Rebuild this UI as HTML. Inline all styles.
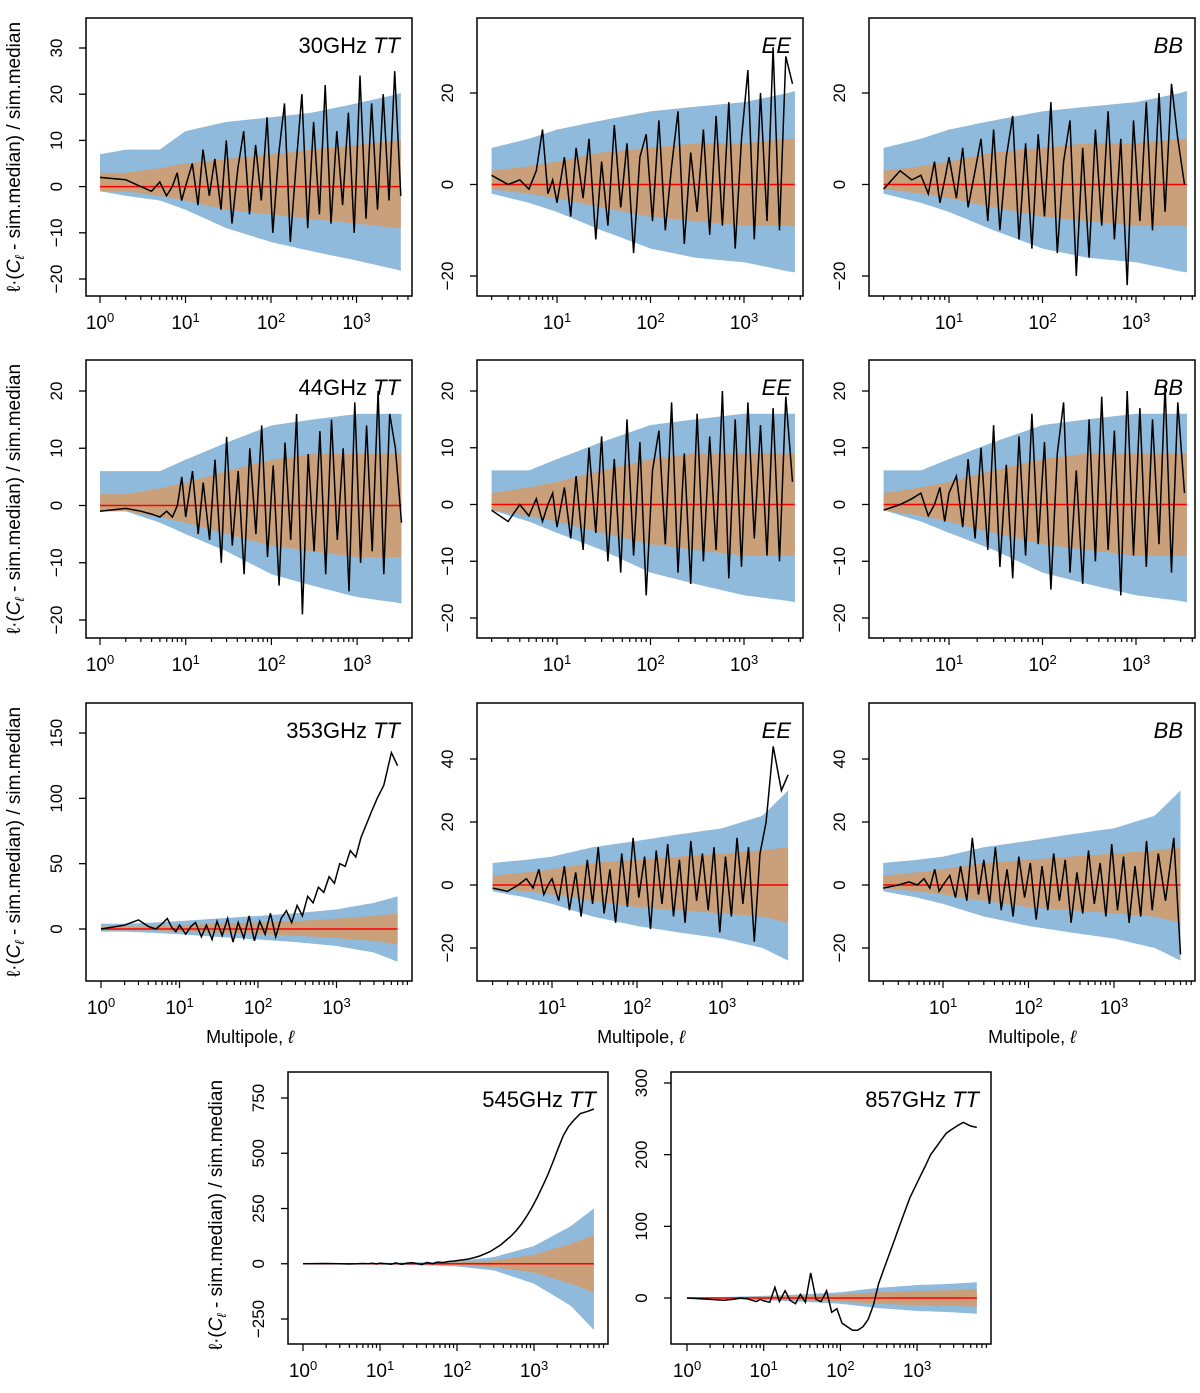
<!DOCTYPE html>
<html><head><meta charset="utf-8"><style>
body{margin:0;background:#fff;}
svg text{font-family:"Liberation Sans","DejaVu Sans",sans-serif;fill:#000;}
</style></head><body>
<svg id="fig" width="1200" height="1388" viewBox="0 0 1200 1388" xmlns="http://www.w3.org/2000/svg"></svg>
<script>
const ellA=[1,2,3,4,5,6,7,8,9,10,12,14,16,19,22,26,30,35,41,48,56,66,77,90,105,123,144,168,197,230,269,315,368,430,503,588,688,805,941,1100,1290,1500,1760,2050,2400,2800,3300];
const ellB=ellA.concat([4000,5000,6000]);
const bandKnots=[1,2,5,10,30,100,300,1000,3000,6000];
const v30TT=[2,1.5,0,-1,1,-2,0,3,-3,0,5,-4,8,-2,6,-5,10,-8,4,12,-6,9,-3,15,-10,7,18,-12,5,20,-9,14,-6,22,-8,12,-4,16,-10,24,-7,18,-5,20,-3,25,-2];
const v30EE=[null,2,0,1,-1,3,12,-2,1,-4,6,-7,8,-3,10,-12,5,-9,13,-5,9,-15,6,11,-8,14,-10,4,16,-13,7,-6,12,-11,15,-9,18,-14,10,25,-12,20,-8,30,-10,28,22];
const v30BB=[null,-1,3,1,2,-2,5,-4,1,6,-3,8,-5,3,10,-8,12,-10,6,15,-12,9,-14,11,-7,18,-15,5,14,-20,8,-16,12,-9,16,-12,10,-22,14,-8,18,-10,20,-6,22,10,0];
const v44TT=[-1,-0.5,-1,-1.5,-2,-1,-2,0,5,-2,6,-5,4,-6,8,-10,12,-7,6,-12,10,-5,14,-9,7,-14,11,-6,16,-19,9,-8,13,-12,15,-6,10,-15,18,-10,14,-8,20,-12,16,10,-3];
const v44EE=[null,-1,-3,0,-2,1,-3,0,2,-4,3,-6,5,-8,10,-5,12,-10,8,-12,15,-9,11,-16,6,13,-7,18,-12,9,-14,16,-10,12,-8,20,-13,15,-11,18,-6,14,-9,17,-10,19,4];
const v44BB=[null,-1,0,1,2,-2,0,3,-3,2,5,-4,8,-6,10,-8,14,-11,7,-13,12,-9,16,-7,11,-15,9,18,-12,6,-14,15,-10,19,-8,13,-16,20,-9,17,-11,15,-7,21,-12,18,2];
const v353TT=[0,3,7,2,0,4,8,1,-2,3,-4,2,5,-6,3,-8,6,-5,8,-10,5,-7,10,-9,6,-4,12,-6,8,14,5,18,10,25,20,32,28,40,35,50,48,60,55,70,80,90,100,110,135,125];
const v353EE=[null,-1,-2,0,2,-1,5,-3,0,2,-5,6,-8,4,-10,8,-6,12,-9,5,-12,10,-7,15,-4,9,-14,11,-6,13,-10,8,-12,14,-5,10,-8,12,-15,9,-10,15,-6,12,-18,10,20,44,30,35];
const v353BB=[null,-1,0,1,0,2,-1,5,-2,0,3,-4,6,-5,15,-3,8,-6,12,-8,5,-10,9,-4,7,-11,6,-8,10,-5,8,-12,4,-9,11,-6,7,-10,13,-8,9,-12,6,-10,14,-8,10,-5,15,-22];
const v545TT=[0,1,0,-1,0,1,0,2,-1,3,0,-2,4,-3,2,5,1,-4,6,0,8,5,10,12,15,18,22,28,35,45,55,70,85,105,125,150,180,215,255,300,350,400,460,520,580,620,650,680,690,700];
const v857TT=[0,-2,-3,-2,0,-1,-3,-5,-2,-4,-6,15,-5,10,-3,-8,5,-6,35,-2,-5,10,-20,-15,-35,-40,-45,-45,-40,-30,-10,20,40,60,80,100,120,140,155,170,185,200,210,220,230,235,240,245,240,238];
// band envelopes at bandKnots: [outerUp, outerLo, innerUp, innerLo]
const bTTlow=[[7,8,8,12,14,15,16,18,20,22],[-1,-2,-3,-5,-9,-12,-14,-16,-18,-20],[3,3,4,5,6,7,8,9,10,10],[-1,-1,-2,-3,-5,-6,-7,-8,-9,-10]];
const bPol=[[8,8,10,12,14,16,17,18,20,22],[-2,-2,-4,-6,-10,-14,-16,-17,-19,-20],[3,3,4,5,7,8,9,9,10,10],[-1,-1,-2,-3,-5,-7,-8,-9,-9,-10]];
const b44=[[6,6,6,8,11,14,15,16,16,16],[-1,-1,-3,-5,-8,-12,-14,-16,-17,-18],[2,2,3,4,6,8,9,9,9,9],[-1,-1,-2,-3,-5,-7,-8,-9,-9,-9]];
const b353=[[4,4,5,6,8,10,12,15,20,25],[-2,-2,-3,-4,-6,-8,-10,-13,-18,-25],[2,2,2,3,4,5,6,8,10,12],[-1,-1,-1,-2,-3,-4,-5,-7,-9,-12]];
const b353P=[[7,7,8,9,12,14,16,18,22,30],[-2,-2,-4,-6,-10,-13,-15,-17,-20,-24],[3,3,4,5,7,8,9,10,11,12],[-1,-1,-2,-3,-5,-7,-8,-9,-10,-12]];
const b545=[[2,2,3,4,6,12,30,80,170,250],[-2,-2,-3,-4,-6,-12,-30,-90,-190,-300],[1,1,2,2,3,6,15,40,90,130],[-1,-1,-2,-2,-3,-6,-15,-40,-90,-130]];
const b857=[[1,1,2,3,5,8,14,18,20,22],[-1,-1,-2,-3,-5,-8,-14,-18,-20,-22],[1,1,1,2,3,5,8,10,11,12],[-1,-1,-1,-2,-3,-5,-8,-10,-11,-12]];

const NS='http://www.w3.org/2000/svg';
const svg=document.getElementById('fig');
function mk(tag,attrs,parent){const e=document.createElementNS(NS,tag);for(const k in attrs)e.setAttribute(k,attrs[k]);(parent||svg).appendChild(e);return e;}

const panels=[
 {id:'30-tt',box:[86,18,412,296],x0:100,dec:85.5,ylo:-20,yloPx:279,yhi:30,yhiPx:48,yt:[-20,-10,0,10,20,30],ell:ellA,v:v30TT,b:bTTlow,lmin:1,lmax:3300,t:'30GHz ',tt:'TT',xt:[0,1,2,3]},
 {id:'30-ee',box:[477,18,803,296],x0:557-93.5,dec:93.5,ylo:-20,yloPx:276,yhi:20,yhiPx:93,yt:[-20,0,20],ell:ellA,v:v30EE,b:bPol,lmin:2,lmax:3500,t:'',tt:'EE',xt:[1,2,3]},
 {id:'30-bb',box:[869,18,1195,296],x0:949-93.5,dec:93.5,ylo:-20,yloPx:276,yhi:20,yhiPx:93,yt:[-20,0,20],ell:ellA,v:v30BB,b:bPol,lmin:2,lmax:3500,t:'',tt:'BB',xt:[1,2,3]},
 {id:'44-tt',box:[86,360,412,638],x0:100,dec:85.7,ylo:-20,yloPx:620,yhi:20,yhiPx:391,yt:[-20,-10,0,10,20],ell:ellA,v:v44TT,b:b44,lmin:1,lmax:3300,t:'44GHz ',tt:'TT',xt:[0,1,2,3]},
 {id:'44-ee',box:[477,360,803,638],x0:557-93.5,dec:93.5,ylo:-20,yloPx:618,yhi:20,yhiPx:391,yt:[-20,-10,0,10,20],ell:ellA,v:v44EE,b:b44,lmin:2,lmax:3500,t:'',tt:'EE',xt:[1,2,3]},
 {id:'44-bb',box:[869,360,1195,638],x0:949-93.5,dec:93.5,ylo:-20,yloPx:618,yhi:20,yhiPx:391,yt:[-20,-10,0,10,20],ell:ellA,v:v44BB,b:b44,lmin:2,lmax:3500,t:'',tt:'BB',xt:[1,2,3]},
 {id:'353-tt',box:[86,703,412,981],x0:101,dec:78.5,ylo:0,yloPx:929,yhi:150,yhiPx:733,yt:[0,50,100,150],ell:ellB,v:v353TT,b:b353,lmin:1,lmax:6000,t:'353GHz ',tt:'TT',xt:[0,1,2,3]},
 {id:'353-ee',box:[477,703,803,981],x0:552-85,dec:85,ylo:-20,yloPx:948,yhi:40,yhiPx:759,yt:[-20,0,20,40],ell:ellB,v:v353EE,b:b353P,lmin:2,lmax:6000,t:'',tt:'EE',xt:[1,2,3]},
 {id:'353-bb',box:[869,703,1195,981],x0:943-85.5,dec:85.5,ylo:-20,yloPx:948,yhi:40,yhiPx:759,yt:[-20,0,20,40],ell:ellB,v:v353BB,b:b353P,lmin:2,lmax:6000,t:'',tt:'BB',xt:[1,2,3]},
 {id:'545-tt',box:[288,1072,608,1344],x0:303,dec:77,ylo:-250,yloPx:1319,yhi:750,yhiPx:1098,yt:[-250,0,250,500,750],ell:ellB,v:v545TT,b:b545,lmin:1,lmax:6000,t:'545GHz ',tt:'TT',xt:[0,1,2,3]},
 {id:'857-tt',box:[671,1072,991,1344],x0:687,dec:76.7,ylo:0,yloPx:1298,yhi:300,yhiPx:1083,yt:[0,100,200,300],ell:ellB,v:v857TT,b:b857,lmin:1,lmax:6000,t:'857GHz ',tt:'TT',xt:[0,1,2,3]}
];

function interpBand(arr,l){const lx=Math.log10(l);for(let i=0;i<bandKnots.length-1;i++){const a=Math.log10(bandKnots[i]),b=Math.log10(bandKnots[i+1]);if(lx<=b){const f=(lx-a)/(b-a);return arr[i]+(arr[i+1]-arr[i])*f;}}return arr[arr.length-1];}

panels.forEach(p=>{
 const g=mk('g',{});
 
 
 const X=l=>p.x0+Math.log10(l)*p.dec;
 const Y=v=>p.yloPx+(v-p.ylo)*(p.yhiPx-p.yloPx)/(p.yhi-p.ylo);
 const [L,T,R,B]=p.box;
 const clipId='c'+p.id;
 const cp=mk('clipPath',{id:clipId},g);mk('rect',{x:L,y:T,width:R-L,height:B-T},cp);
 const ls=[];for(let i=0;i<=120;i++){ls.push(Math.pow(10,Math.log10(p.lmin)+(Math.log10(p.lmax)-Math.log10(p.lmin))*i/120));}
 function band(up,lo,col,name){let d='';ls.forEach((l,i)=>{d+=(i?'L':'M')+X(l).toFixed(1)+','+Y(interpBand(up,l)).toFixed(1);});for(let i=ls.length-1;i>=0;i--){d+='L'+X(ls[i]).toFixed(1)+','+Y(interpBand(lo,ls[i])).toFixed(1);}
  const e=mk('path',{d:d+'Z',fill:col,'clip-path':'url(#'+clipId+')'},g);
  
  }
 band(p.b[0],p.b[1],'#8fbadb','outer-band');
 band(p.b[2],p.b[3],'#c9a07a','inner-band');
 const z=mk('line',{x1:X(p.lmin),x2:X(p.lmax),y1:Y(0),y2:Y(0),stroke:'#ff0000','stroke-width':1.5},g);
 
 
 let d='';let first=true;p.ell.forEach((l,i)=>{const v=p.v[i];if(v===null||v===undefined||l<p.lmin)return;d+=(first?'M':'L')+X(l).toFixed(1)+','+Y(v).toFixed(1);first=false;});
 const dl=mk('path',{d:d,fill:'none',stroke:'#000','stroke-width':1.5,'clip-path':'url(#'+clipId+')'},g);
 
 
 const fr=mk('rect',{x:L,y:T,width:R-L,height:B-T,fill:'none',stroke:'#000','stroke-width':1.5},g);
 
 
 p.yt.forEach(v=>{const y=Y(v);mk('line',{x1:L-7,x2:L,y1:y,y2:y,stroke:'#000','stroke-width':1.3},g);
  const t=mk('text',{x:L-24,y:y,'font-size':17,'text-anchor':'middle',transform:'rotate(-90 '+(L-24)+' '+y+')'},g);
  t.textContent=(v<0?'\u2212'+(-v):String(v));
  
  });
 for(let e=0;e<4;e++){for(let m=1;m<10;m++){const l=m*Math.pow(10,e);if(l<p.lmin*0.99||X(l)>R-2)continue;if(X(l)<L+2)continue;mk('line',{x1:X(l),x2:X(l),y1:B,y2:B+(m===1?7:4),stroke:'#000','stroke-width':1.2},g);}}
 p.xt.forEach(e=>{const t=mk('text',{x:X(Math.pow(10,e)),y:B+33,'font-size':19,'text-anchor':'middle'},g);
  
  
  t.innerHTML='10<tspan dy="-7" font-size="13">'+e+'</tspan>';});
 const tt=mk('text',{x:R-12,y:T+35,'font-size':22,'text-anchor':'end'},g);
 
 
 tt.innerHTML=p.t+'<tspan font-style="italic">'+p.tt+'</tspan>';
});

function ylab(x,y){const t=mk('text',{x:x,y:y,'font-size':19,'text-anchor':'middle',transform:'rotate(-90 '+x+' '+y+')'});
 
 
 t.innerHTML='\u2113\u00b7(<tspan font-style="italic">C</tspan><tspan font-size="13" dy="4" font-style="italic">\u2113</tspan><tspan dy="-4"> - sim.median) / sim.median</tspan>';}
ylab(20,157);ylab(20,499);ylab(20,842);ylab(222,1215);
[250,641,1032].forEach(x=>{const t=mk('text',{x:x,y:1043,'font-size':18,'text-anchor':'middle'});
 
 
 t.innerHTML='Multipole, <tspan font-style="italic">\u2113</tspan>';});
</script>
</body></html>
